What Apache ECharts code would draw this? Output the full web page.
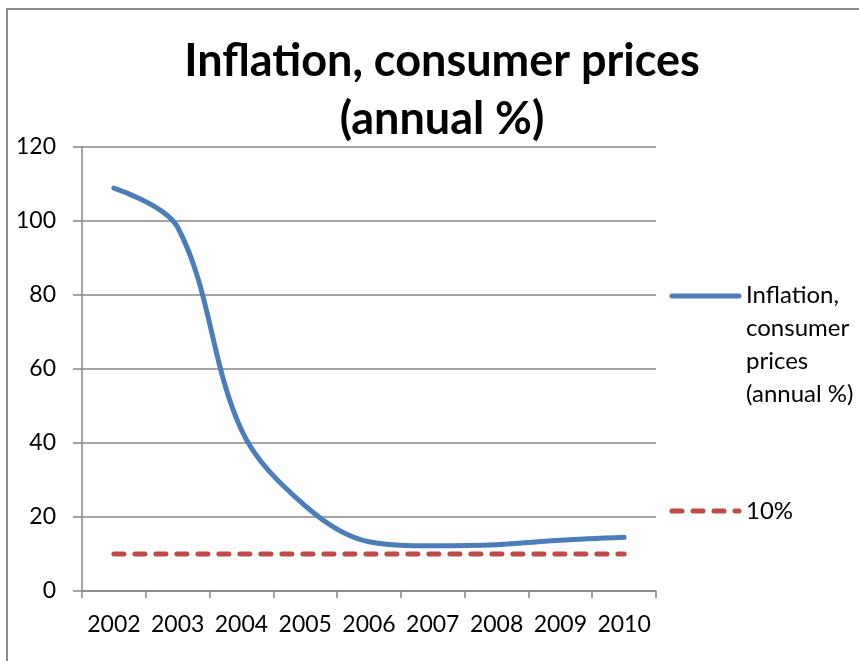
<!DOCTYPE html>
<html>
<head>
<meta charset="utf-8">
<script src="https://cdn.jsdelivr.net/npm/echarts@6/dist/echarts.min.js"></script>
<style>
html,body{margin:0;padding:0;background:#fff;}
#chart{width:859px;height:661px;}
</style>
</head>
<body>
<div id="chart"></div>
<script>
const years = ['2002','2003','2004','2005','2006','2007','2008','2009','2010'];
const inflation = [108.9, 98.3, 43.5, 23.0, 13.3, 12.2, 12.5, 13.7, 14.5];
const threshold = [10, 10, 10, 10, 10, 10, 10, 10, 10];
const yTicks = [0, 20, 40, 60, 80, 100, 120];
const seriesNames = ['Inflation, consumer prices (annual %)', '10%'];
const legendLabels = ['Inflation,\nconsumer\nprices\n(annual %)', '10%'];
const titleText = 'Inflation, consumer prices\n(annual %)';

const FONT = 'Lato';
const chart = echarts.init(document.getElementById('chart'), null, {renderer:'canvas'});
chart.setOption({
  animation: false,
  backgroundColor: '#fff',
  textStyle: {fontFamily: FONT},
  title: {
    text: titleText,
    left: 437,
    top: 27,
    textAlign: 'center',
    textStyle: {fontFamily: FONT, fontWeight: 'bold', fontSize: 45, lineHeight: 58, color: '#000'}
  },
  grid: {left: 82, right: 203, top: 147, bottom: 70, containLabel: false},
  xAxis: {
    type: 'category',
    data: years,
    boundaryGap: true,
    axisLine: {lineStyle: {color: '#868686', width: 1.5}},
    axisTick: {show: true, inside: false, length: 7, interval: 0, lineStyle: {color: '#868686', width: 1.5}},
    axisLabel: {fontFamily: FONT, fontSize: 23, color: '#000', margin: 22, interval: 0}
  },
  yAxis: {
    type: 'value',
    min: yTicks[0],
    max: yTicks[yTicks.length-1],
    interval: 20,
    axisLine: {show: true, lineStyle: {color: '#868686', width: 1.5}},
    axisTick: {show: true, inside: false, length: 9, lineStyle: {color: '#868686', width: 1.5}},
    splitLine: {show: true, lineStyle: {color: '#868686', width: 1.5}},
    axisLabel: {fontFamily: FONT, fontSize: 23, color: '#000', margin: 26}
  },
  series: [
    {
      name: seriesNames[0],
      type: 'line',
      data: inflation,
      smooth: 0.35,
      symbol: 'none',
      lineStyle: {color: '#4A7EBB', width: 5, cap: 'round', join: 'round'},
      z: 3
    },
    {
      name: seriesNames[1],
      type: 'line',
      data: threshold,
      symbol: 'none',
      lineStyle: {color: '#BE4B48', width: 5, type: [10, 11], cap: 'round'},
      z: 2
    }
  ],
  graphic: [
    {type: 'rect', shape: {x: 7, y: 9, width: 900, height: 700}, style: {fill: 'none', stroke: '#8a8a8a', lineWidth: 2}, silent: true},
    {type: 'line', shape: {x1: 672, y1: 296, x2: 739, y2: 296}, style: {stroke: '#4A7EBB', lineWidth: 5, lineCap: 'round'}},
    {type: 'text', x: 746, y: 279, style: {text: legendLabels[0], fontFamily: FONT, fontSize: 24, lineHeight: 33, fill: '#000'}},
    {type: 'line', shape: {x1: 672, y1: 511, x2: 739, y2: 511}, style: {stroke: '#BE4B48', lineWidth: 5, lineCap: 'round', lineDash: [10, 11]}},
    {type: 'text', x: 746, y: 495, style: {text: legendLabels[1], fontFamily: FONT, fontSize: 24, lineHeight: 33, fill: '#000'}}
  ]
});
</script>
</body>
</html>
